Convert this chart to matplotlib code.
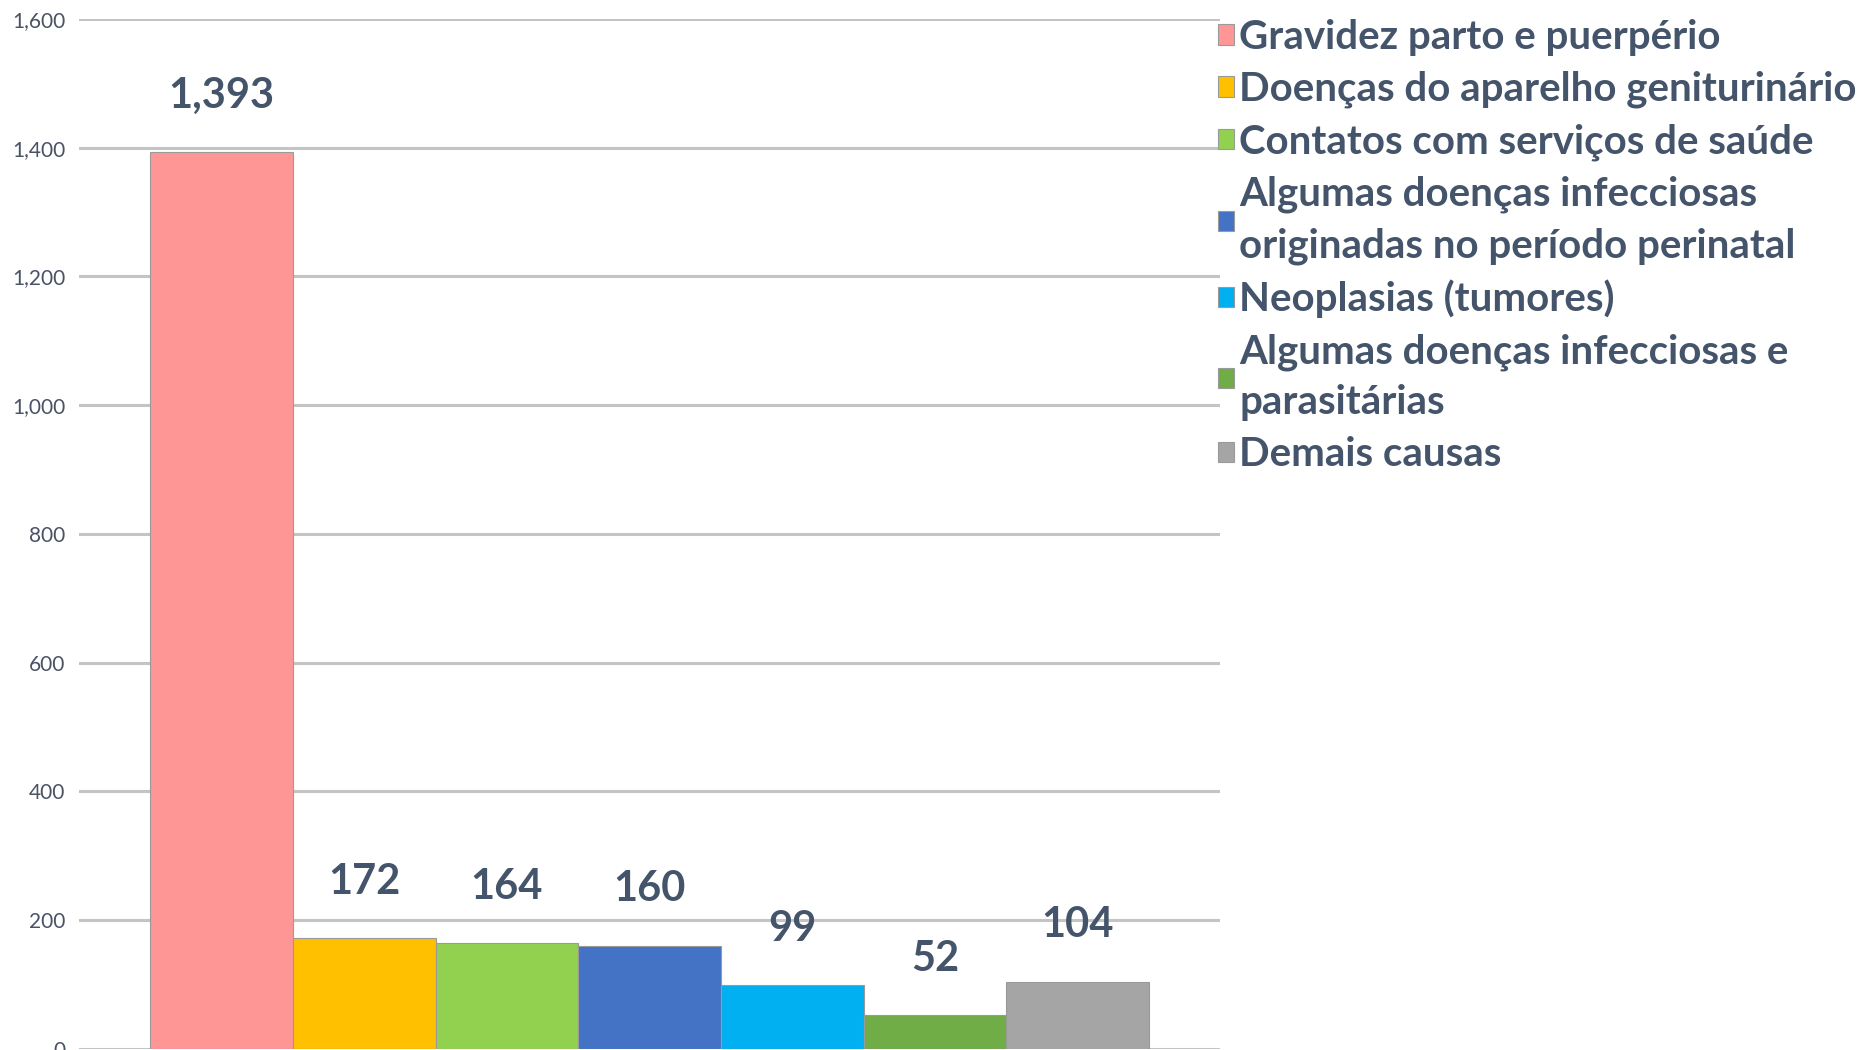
import numpy as np
import matplotlib.pyplot as plt
from matplotlib.ticker import FuncFormatter

# data
categories = ['Gravidez parto e puerpério',
              'Doenças do aparelho geniturinário',
              'Contatos com serviços de saúde',
              'Algumas doenças infecciosas\noriginadas no período perinatal',
              'Neoplasias (tumores)',
              'Algumas doenças infecciosas e\nparasitárias',
              'Demais causas']
values = [1393, 172, 164, 160, 99, 52, 104]
colors = ['#FF9696', '#FFC000', '#92D050', '#4472C4', '#00B0F0', '#70AD47', '#A5A5A5']
y_ticks = np.arange(0, 1601, 200)

text_color = '#44546A'
plt.rcParams['font.family'] = ['Lato', 'DejaVu Sans']

fig = plt.figure(figsize=(18.6, 10.5), dpi=100)
ax = fig.add_axes([0.0425, 0.001, 0.6135, 0.981])

x_pos = np.arange(len(values))
bars = ax.bar(x_pos, values, width=1.0, color=colors,
              edgecolor='#9A9A9A', linewidth=0.8, zorder=3)

ax.bar_label(bars, labels=['{:,}'.format(v) for v in values],
             padding=27, fontsize=30, fontweight='bold', color=text_color)

#%% axes styling
ax.set_xlim(-1.0, 7.0)
ax.set_ylim(0, 1600)
ax.set_yticks(y_ticks)
ax.yaxis.set_major_formatter(FuncFormatter(lambda v, p: '{:,.0f}'.format(v)))
ax.set_xticks([])
ax.tick_params(axis='y', length=0, pad=10, labelsize=15, labelcolor='#4A5266')
ax.grid(axis='y', color='#C4C4C4', linewidth=2.2, zorder=0)
ax.set_axisbelow(True)
for s in ax.spines.values():
    s.set_visible(False)

#%% legend
leg = ax.legend(bars, categories, loc='upper left',
                bbox_to_anchor=(0.655, 0.982), bbox_transform=fig.transFigure,
                frameon=False, fontsize=29, borderpad=0, borderaxespad=0,
                handlelength=0.4, handleheight=0.4, handletextpad=0.12,
                labelspacing=0.37)
for t in leg.get_texts():
    t.set_color(text_color)
    t.set_fontweight('bold')
    t.set_linespacing(1.465)

fig.savefig('out.png', dpi=100)
